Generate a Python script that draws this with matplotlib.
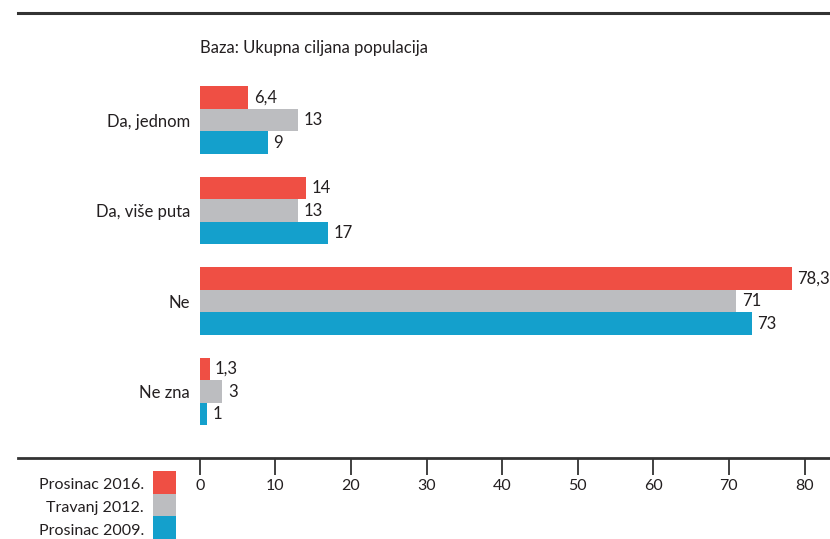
import matplotlib
matplotlib.use("Agg")
import matplotlib.pyplot as plt
from matplotlib.lines import Line2D
from matplotlib.patches import Rectangle
import numpy as np

plt.rcParams['font.family'] = ['Lato', 'DejaVu Sans']

categories = ["Da, jednom", "Da, više puta", "Ne", "Ne zna"]
series_names = ["Prosinac 2016.", "Travanj 2012.", "Prosinac 2009."]
values_2016 = [6.4, 14, 78.3, 1.3]
values_2012 = [13, 13, 71, 3]
values_2009 = [9, 17, 73, 1]
ticks = [0, 10, 20, 30, 40, 50, 60, 70, 80]
title = "Baza: Ukupna ciljana populacija"

colors = ["#EF4F44", "#BCBDC0", "#14A0CC"]
series = [values_2016, values_2012, values_2009]

W, H = 830, 539
fig = plt.figure(figsize=(W / 100, H / 100), dpi=100)

def fx(px):
    return px / W

def fy(py):
    return 1 - py / H

x0_px = 199.7
ppu = 7.56
ax_top_px, ax_bot_px = 40, 458
ax = fig.add_axes([fx(x0_px), fy(ax_bot_px), fx(W - x0_px), (ax_bot_px - ax_top_px) / H])
ax.set_xlim(0, (W - x0_px) / ppu)
gap = 90.5
ax.set_ylim(3 + (ax_bot_px - 391.5) / gap, -(120 - ax_top_px) / gap)

bh = 0.25
y = np.arange(len(categories))
for i, (vals, col) in enumerate(zip(series, colors)):
    off = (i - 1) * bh
    ax.barh(y + off, vals, height=bh, color=col, linewidth=0)
    for yy, v in zip(y, vals):
        lab = (f"{v:g}").replace(".", ",")
        ax.annotate(lab, (v, yy + off), xytext=(4, 0), textcoords="offset points",
                    va="center", ha="left", fontsize=12, color="#231F20")

for s in ax.spines.values():
    s.set_visible(False)
ax.set_yticks(y)
ax.set_yticklabels(categories, fontsize=12, color="#231F20")
ax.tick_params(axis='y', length=0, pad=7)
ax.set_xticks(ticks)
ax.set_xticklabels([str(t) for t in ticks], fontsize=11.5, color="#231F20")
ax.tick_params(axis='x', direction='out', length=12, width=1.3, color="#333333", pad=3)
ax.patch.set_visible(False)

# top rule and bottom axis rule
fig.add_artist(Line2D([fx(18), 1], [fy(13), fy(13)], color="#333333", lw=2.2, transform=fig.transFigure))
fig.add_artist(Line2D([fx(18), 1], [fy(458), fy(458)], color="#333333", lw=2.0, transform=fig.transFigure))

fig.text(fx(200), fy(48), title, fontsize=12, color="#231F20", va="center", ha="left")

# legend
sq = 22.7
for i, (name, col) in enumerate(zip(series_names, colors)):
    top = 471 + i * sq
    fig.add_artist(Rectangle((fx(153), fy(top + sq)), fx(23), sq / H, color=col,
                             transform=fig.transFigure, lw=0))
    fig.text(fx(144), fy(top + sq / 2 + 3), name, fontsize=11.5, color="#231F20",
             ha="right", va="center")

fig.savefig("out.png", dpi=100)
